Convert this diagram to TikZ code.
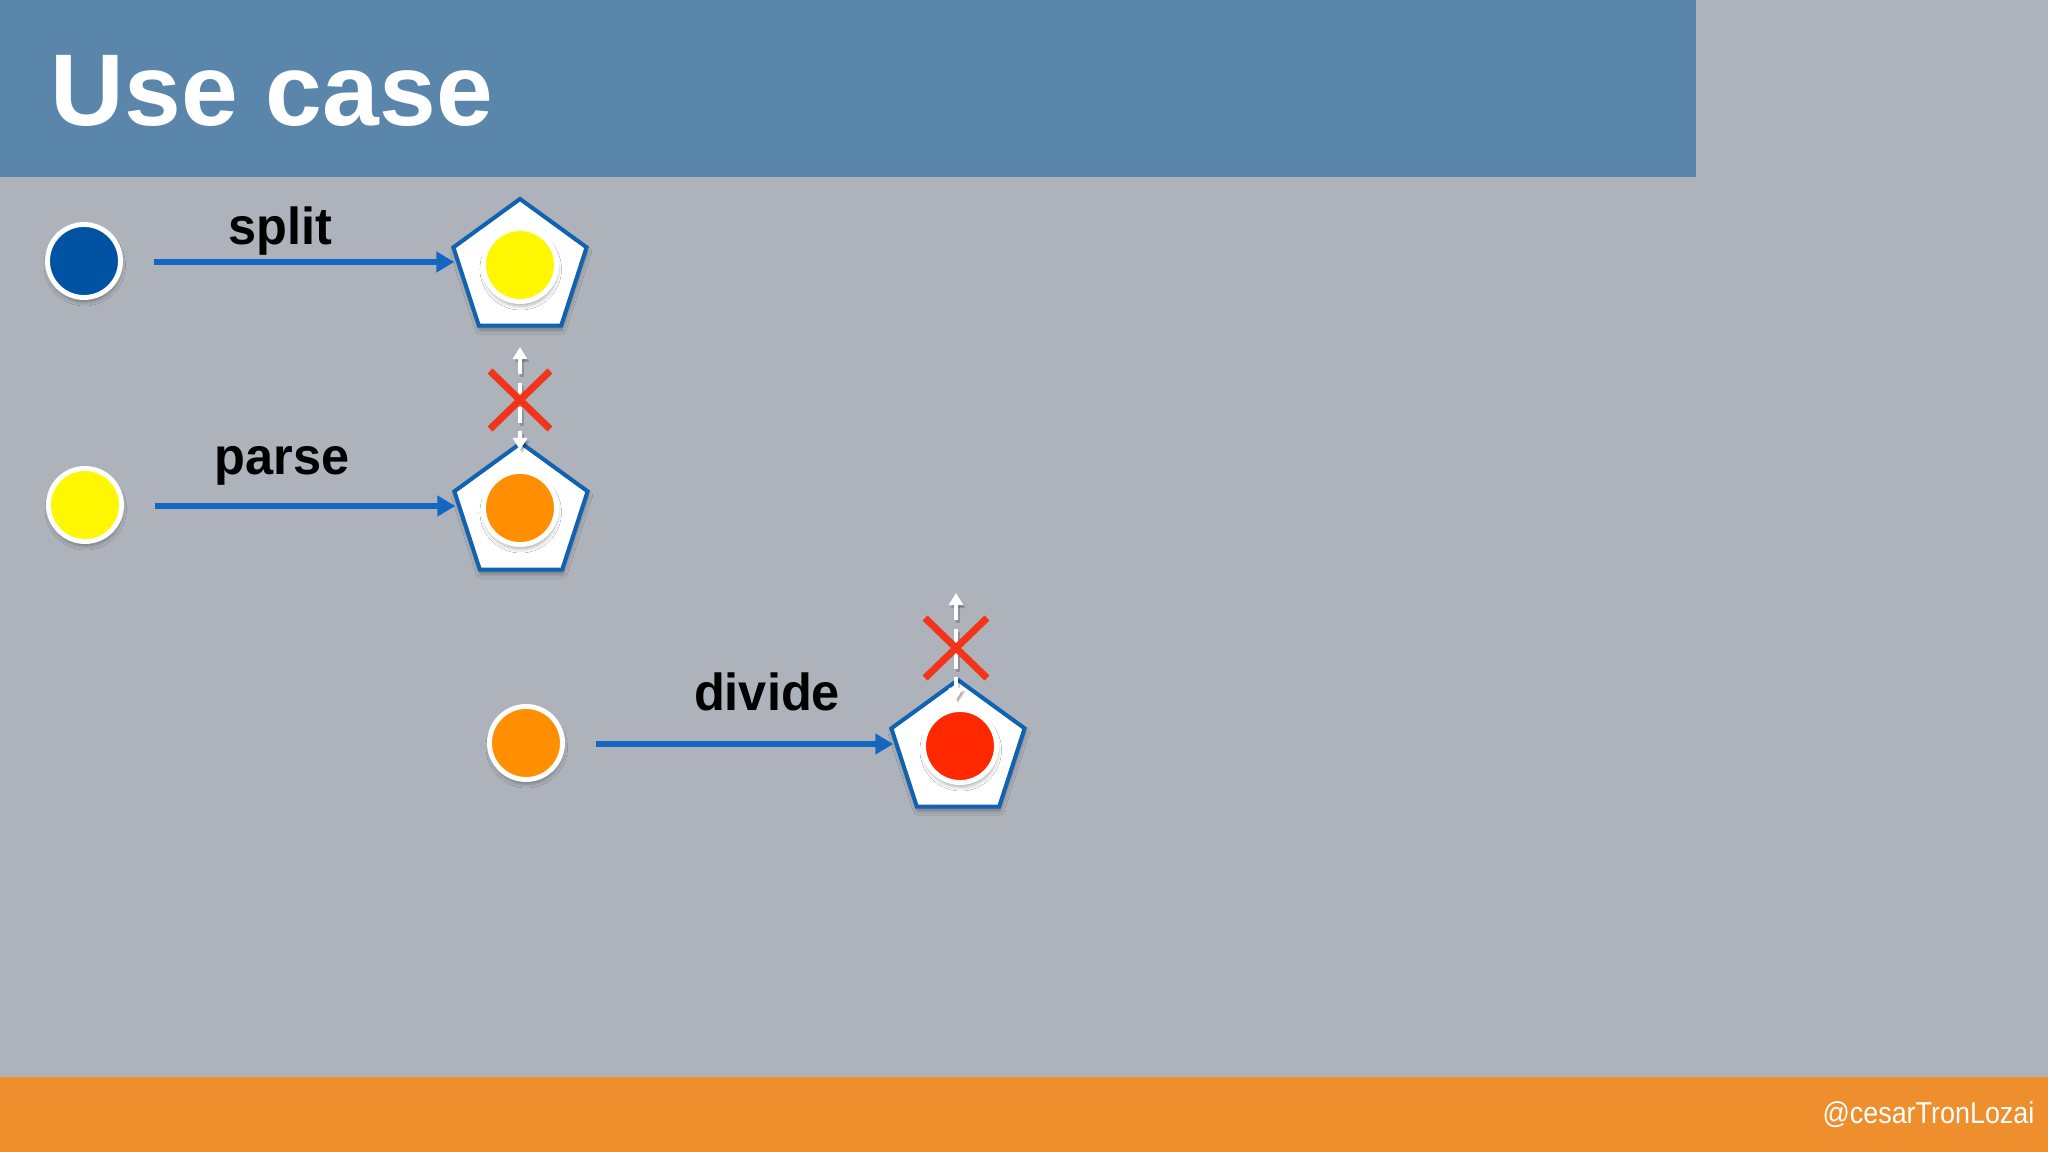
\documentclass[tikz,border=0pt]{standalone}
\usepackage{fontspec}
\setmainfont{Liberation Sans}
\usetikzlibrary{arrows.meta,shapes.geometric,shadows.blur}
\definecolor{bggray}{HTML}{AEB3BB}
\definecolor{headblue}{HTML}{5B86AC}
\definecolor{footorange}{HTML}{EE8E2D}
\definecolor{dotblue}{HTML}{0052A2}
\definecolor{dotyellow}{HTML}{FFF700}
\definecolor{dotorange}{HTML}{FF8E00}
\definecolor{dotred}{HTML}{FF2800}
\definecolor{flowblue}{HTML}{1566C0}
\definecolor{pentblue}{HTML}{1262B2}
\definecolor{xred}{HTML}{F2341A}
\begin{document}
\begin{tikzpicture}[x=0.01cm,y=-0.01cm,
  softshadow/.style={blur shadow={shadow xshift=0.2pt,shadow yshift=-1.2pt,shadow opacity=35,shadow blur steps=6,shadow blur radius=1.2pt}},
  dot/.style={circle,draw=white,line width=1.4pt,minimum size=0.73cm,inner sep=0pt,softshadow},
  pent/.style={regular polygon,regular polygon sides=5,draw=pentblue,fill=white,line width=1.15pt,minimum size=1.40cm,inner sep=0pt,softshadow},
  flow/.style={draw=flowblue,line width=1.6pt,-{Triangle[length=0.18cm,width=0.2cm]}},
  dasharr/.style={draw=white,line width=1.15pt,dash pattern=on 4.6pt off 2.3pt,{Triangle[length=0.12cm,width=0.14cm]}-{Triangle[length=0.12cm,width=0.14cm]}},
  dashshade/.style={draw=black,opacity=0.18,line width=1.15pt,dash pattern=on 4.6pt off 2.3pt,{Triangle[length=0.12cm,width=0.14cm]}-{Triangle[length=0.12cm,width=0.14cm]}},
  xmark/.style={draw=xred,line width=2pt},
  label/.style={font=\bfseries\fontsize{14.8pt}{17pt}\selectfont,text=black,anchor=base,inner sep=0pt,xscale=0.97},
  titletext/.style={font=\bfseries\fontsize{29pt}{34pt}\selectfont,text=white,anchor=base west,inner sep=0pt},
  foottext/.style={font=\fontsize{8.6pt}{10pt}\selectfont,text=white,anchor=base east,inner sep=0pt,xscale=0.89}
]
\useasboundingbox (0,0) rectangle (2048,1152);
\fill[bggray] (0,0) rectangle (2048,1152);
\fill[headblue] (0,0) rectangle (1696,177);
\fill[footorange] (0,1077) rectangle (2048,1152);
\node[titletext] (title) at (50,126) {Use case};
\node[foottext] (handle) at (2035,1123) {@cesarTronLozai};

% source circles
\node[dot,fill=dotblue] (c1) at (84,261) {};
\node[dot,fill=dotyellow] (c2) at (85,505) {};
\node[dot,fill=dotorange] (c3) at (526,743) {};

% pentagons with results
\node[pent] (p1) at (520,269) {};
\node[pent] (p2) at (521,513) {};
\node[pent] (p3) at (958,750) {};
\node[dot,fill=dotyellow] (r1) at (520,265) {};
\node[dot,fill=dotorange] (r2) at (520,508) {};
\node[dot,fill=dotred] (r3) at (960,746) {};

% flows
\coordinate (e1) at (c1.east -| p1.west);
\coordinate (e2) at (c2.east -| p2.west);
\coordinate (e3) at (c3.east -| p3.west);
\draw[flow] ([xshift=0.31cm,yshift=-0.01cm]c1.east) -- ([xshift=-0.04cm,yshift=-0.01cm]e1);
\draw[flow] ([xshift=0.31cm,yshift=-0.01cm]c2.east) -- ([xshift=-0.04cm,yshift=-0.01cm]e2);
\draw[flow] ([xshift=0.31cm,yshift=-0.01cm]c3.east) -- ([xshift=-0.03cm,yshift=-0.01cm]e3);
\node[label] (l1) at (280,245) {split};
\node[label] (l2) at (282,475) {parse};
\node[label] (l3) at (767,710) {divide};

% forbidden links
\coordinate (d1t) at (520,347);
\coordinate (d1b) at (520,450);
\coordinate (x1) at (520,400);
\coordinate (d2t) at (956,593);
\coordinate (d2b) at (956,700);
\coordinate (x2) at (956,648);
\draw[dashshade] ([xshift=0.02cm,yshift=-0.03cm]d1t) -- ([xshift=0.02cm,yshift=-0.03cm]d1b);
\draw[dashshade] ([xshift=0.02cm,yshift=-0.03cm]d2t) -- ([xshift=0.02cm,yshift=-0.03cm]d2b);
\draw[dasharr] (d1t) -- (d1b);
\draw[dasharr] (d2t) -- (d2b);
\draw[xmark] (x1) ++(-30,-29) -- ++(60,58);
\draw[xmark] (x1) ++(30,-29) -- ++(-60,58);
\draw[xmark] (x2) ++(-31,-30) -- ++(62,60);
\draw[xmark] (x2) ++(31,-30) -- ++(-62,60);
\end{tikzpicture}
\end{document}
